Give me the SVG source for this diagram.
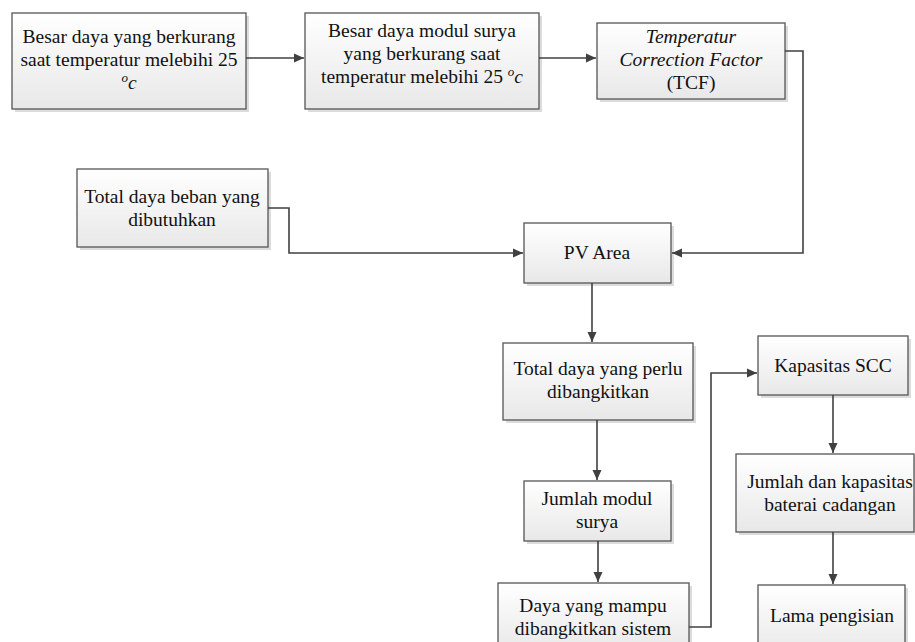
<svg xmlns="http://www.w3.org/2000/svg" width="915" height="642" viewBox="0 0 915 642">
<defs>
<linearGradient id="g" x1="0" y1="0" x2="0" y2="1">
<stop offset="0" stop-color="#ffffff"/>
<stop offset="1" stop-color="#e8e8e8"/>
</linearGradient>
<marker id="ah" viewBox="0 0 10 10" refX="10" refY="5" markerWidth="10" markerHeight="10" markerUnits="userSpaceOnUse" orient="auto">
<path d="M0,0.5 L10,5 L0,9.5 Z" fill="#404040"/>
</marker>
</defs>
<style>
.sh{fill:#dcdcdc}
.bx{fill:url(#g);stroke:#555;stroke-width:1.3}
text{font-family:"Liberation Serif","Times New Roman",serif;font-size:19.5px;fill:#111;text-anchor:middle}
.i{font-style:italic}
.c{fill:none;stroke:#404040;stroke-width:1.6;marker-end:url(#ah)}
</style>
<rect width="915" height="642" fill="#fff"/>
<g id="n1">
<rect class="sh" x="15" y="16" width="234" height="96"/>
<rect class="bx" x="12" y="13" width="234" height="96"/>
<text x="129" y="43">Besar daya yang berkurang</text>
<text x="129" y="66">saat temperatur melebihi 25</text>
<text x="129" y="89" class="i"><tspan font-size="13" dy="-7">o</tspan><tspan dy="7">c</tspan></text>
</g>
<g id="n2">
<rect class="sh" x="308" y="16" width="234" height="96"/>
<rect class="bx" x="305" y="13" width="234" height="96"/>
<text x="422" y="37">Besar daya modul surya</text>
<text x="422" y="60">yang berkurang saat</text>
<text x="422" y="83">temperatur melebihi 25 <tspan class="i" font-size="13" dy="-7">o</tspan><tspan class="i" dy="7">c</tspan></text>
</g>
<g id="n3">
<rect class="sh" x="600" y="26" width="188" height="76"/>
<rect class="bx" x="597" y="23" width="188" height="76"/>
<text x="691" y="43" class="i">Temperatur</text>
<text x="691" y="66" class="i">Correction Factor</text>
<text x="691" y="89">(TCF)</text>
</g>
<g id="n4">
<rect class="sh" x="80" y="172" width="191" height="78"/>
<rect class="bx" x="77" y="169" width="191" height="78"/>
<text x="172" y="203">Total daya beban yang</text>
<text x="172" y="226">dibutuhkan</text>
</g>
<g id="n5">
<rect class="sh" x="527" y="226" width="147" height="60"/>
<rect class="bx" x="524" y="223" width="147" height="60"/>
<text x="597" y="259">PV Area</text>
</g>
<g id="n6">
<rect class="sh" x="506" y="346" width="190" height="77"/>
<rect class="bx" x="503" y="343" width="190" height="77"/>
<text x="598" y="375">Total daya yang perlu</text>
<text x="598" y="398">dibangkitkan</text>
</g>
<g id="n7">
<rect class="sh" x="761" y="339" width="150" height="59"/>
<rect class="bx" x="758" y="336" width="150" height="59"/>
<text x="833" y="372">Kapasitas SCC</text>
</g>
<g id="n8">
<rect class="sh" x="527" y="484" width="147" height="60"/>
<rect class="bx" x="524" y="481" width="147" height="60"/>
<text x="597" y="505">Jumlah modul</text>
<text x="597" y="528">surya</text>
</g>
<g id="n9">
<rect class="sh" x="739" y="457" width="178" height="78"/>
<rect class="bx" x="736" y="454" width="178" height="78"/>
<text x="830" y="488">Jumlah dan kapasitas</text>
<text x="830" y="511">baterai cadangan</text>
</g>
<g id="n10">
<rect class="sh" x="501" y="586" width="191" height="70"/>
<rect class="bx" x="498" y="583" width="191" height="70"/>
<text x="593" y="612">Daya yang mampu</text>
<text x="593" y="635">dibangkitkan sistem</text>
</g>
<g id="n11">
<rect class="sh" x="761" y="588" width="147" height="70"/>
<rect class="bx" x="758" y="585" width="147" height="70"/>
<text x="832" y="622">Lama pengisian</text>
</g>
<g id="connectors">
<path class="c" d="M246,58 H304"/>
<path class="c" d="M539,58 H596"/>
<path class="c" d="M785,51 H803 V253 H672"/>
<path class="c" d="M268,208 H289 V253 H523"/>
<path class="c" d="M592,283 V342"/>
<path class="c" d="M597,420 V480"/>
<path class="c" d="M598,541 V582"/>
<path class="c" d="M689,627 H711 V373 H757"/>
<path class="c" d="M833,395 V453"/>
<path class="c" d="M833,532 V584"/>
</g>
</svg>
